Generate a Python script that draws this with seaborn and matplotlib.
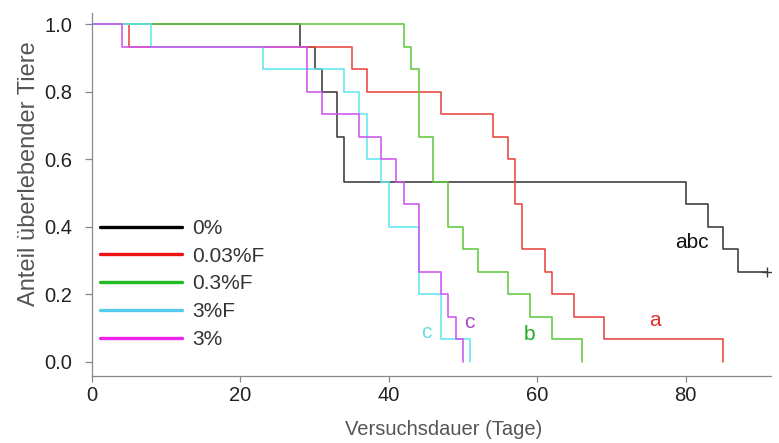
import matplotlib
matplotlib.use("Agg")
import matplotlib.pyplot as plt
from matplotlib.lines import Line2D
import seaborn as sns
import pandas as pd

# ---- data ----
groups = ["0%", "0.03%F", "0.3%F", "3%F", "3%"]

t_0 = [0, 28, 30, 31, 33, 34, 80, 83, 85, 87, 91]
s_0 = [1.0, 0.933, 0.867, 0.8, 0.667, 0.533, 0.467, 0.4, 0.333, 0.267, 0.267]

t_003F = [0, 5, 35, 37, 47, 54, 56, 57, 58, 61, 62, 65, 69, 85]
s_003F = [1.0, 0.933, 0.867, 0.8, 0.733, 0.667, 0.6, 0.467, 0.333, 0.267, 0.2, 0.133, 0.067, 0.0]

t_03F = [0, 42, 43, 44, 46, 48, 50, 52, 56, 59, 62, 66]
s_03F = [1.0, 0.933, 0.867, 0.667, 0.533, 0.4, 0.333, 0.267, 0.2, 0.133, 0.067, 0.0]

t_3F = [0, 8, 23, 34, 36, 37, 39, 40, 44, 47, 51]
s_3F = [1.0, 0.933, 0.867, 0.8, 0.733, 0.6, 0.533, 0.4, 0.2, 0.067, 0.0]

t_3 = [0, 4, 29, 31, 36, 39, 41, 42, 44, 47, 48, 49, 50]
s_3 = [1.0, 0.933, 0.8, 0.733, 0.667, 0.6, 0.533, 0.467, 0.267, 0.2, 0.133, 0.067, 0.0]

censor_t = [91]
censor_s = [0.267]

sig_labels = ["abc", "a", "b", "c", "c"]
sig_x = [80.9, 75.9, 59.0, 45.1, 50.8]
sig_y = [0.355, 0.124, 0.082, 0.088, 0.118]

x_ticks = [0, 20, 40, 60, 80]
y_ticks = [0.0, 0.2, 0.4, 0.6, 0.8, 1.0]

# ---- styles ----
curve_colors = {"0%": "#3a3a3a", "0.03%F": "#e8453f", "0.3%F": "#62c840",
                "3%F": "#62e6f0", "3%": "#cc55ee"}
legend_colors = {"0%": "#000000", "0.03%F": "#ee1111", "0.3%F": "#22bb22",
                 "3%F": "#55ccee", "3%": "#ee22ee"}
sig_colors = ["#111111", "#e03030", "#22aa22", "#66dddd", "#aa44cc"]

series = {"0%": (t_0, s_0), "0.03%F": (t_003F, s_003F), "0.3%F": (t_03F, s_03F),
          "3%F": (t_3F, s_3F), "3%": (t_3, s_3)}
rows = []
for g in groups:
    tt, ss = series[g]
    for a, b in zip(tt, ss):
        rows.append({"group": g, "t": a, "s": b})
df = pd.DataFrame(rows)

sns.set_theme(style="ticks")
plt.rcParams["font.family"] = ["Liberation Sans", "DejaVu Sans"]

fig = plt.figure(figsize=(7.79, 4.43), dpi=100)
ax = fig.add_axes([92 / 779, 1 - 375.7 / 443, 679 / 779, 362.7 / 443])

sns.lineplot(data=df, x="t", y="s", hue="group", hue_order=groups,
             palette=curve_colors, estimator=None, sort=True,
             drawstyle="steps-post", linewidth=1.15, legend=False, ax=ax)
ax.plot(censor_t, censor_s, marker="+", linestyle="none", color="#3a3a3a",
        markersize=7, markeredgewidth=1.0)

for lab, x, y, c in zip(sig_labels, sig_x, sig_y, sig_colors):
    ax.text(x, y, lab, color=c, fontsize=15, ha="center", va="center")

ax.set_xlim(0, 91.5)
ax.set_ylim(-0.041, 1.0335)
ax.set_xticks(x_ticks)
ax.set_yticks(y_ticks)
ax.set_yticklabels([f"{v:.1f}" for v in y_ticks])

for side in ["top", "right"]:
    ax.spines[side].set_visible(False)
for side in ["left", "bottom"]:
    ax.spines[side].set_color("#888888")
    ax.spines[side].set_linewidth(0.9)

ax.tick_params(axis="y", direction="out", length=5, width=0.9, color="#888888",
               labelsize=14.5, labelcolor="#222222", pad=9)
ax.tick_params(axis="x", direction="out", length=4.3, width=0.9, color="#888888",
               labelsize=14.5, labelcolor="#222222", pad=3)

ax.set_xlabel("Versuchsdauer (Tage)", fontsize=14.5, color="#555555", va="center")
ax.xaxis.set_label_coords(0.518, -0.147)
ax.set_ylabel("Anteil überlebender Tiere", fontsize=17, color="#555555", va="center")
ax.yaxis.set_label_coords(-0.093, 0.556)

handles = [Line2D([0], [0], color=legend_colors[g], linewidth=2.4) for g in groups]
leg = ax.legend(handles, groups, loc="center left", bbox_to_anchor=(0.0118, 0.253),
                frameon=False, fontsize=15, handlelength=3.94, handletextpad=0.48,
                labelspacing=0.42, borderpad=0, borderaxespad=0)
for txt in leg.get_texts():
    txt.set_color("#333333")

fig.savefig("out.png", dpi=100)
